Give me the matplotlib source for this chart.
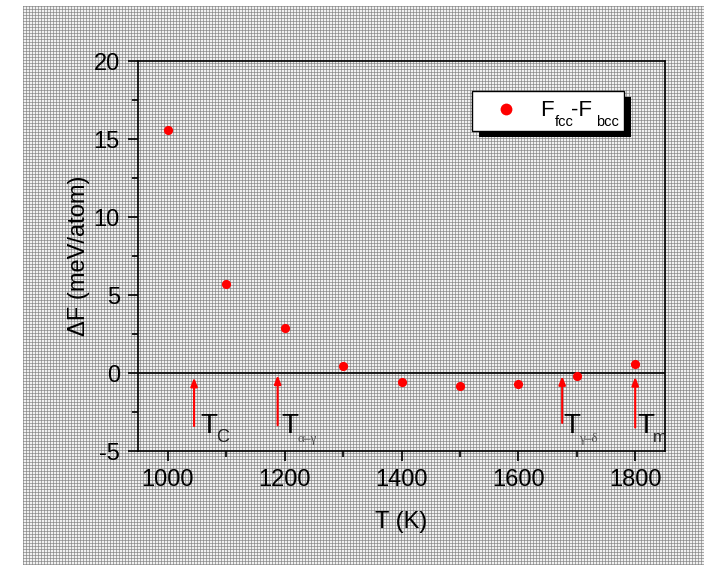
import numpy as np
import matplotlib
matplotlib.use("Agg")
import matplotlib.pyplot as plt
from matplotlib.ticker import MultipleLocator
from matplotlib.patches import Rectangle
from matplotlib.lines import Line2D

plt.rcParams['font.family'] = ['Liberation Sans', 'DejaVu Sans']
plt.rcParams['axes.unicode_minus'] = False

# dane: roznica energii swobodnej fcc - bcc
temps = [1000, 1100, 1200, 1300, 1400, 1500, 1600, 1700, 1800]
delta_f = [15.6, 5.7, 2.9, 0.45, -0.6, -0.85, -0.7, -0.2, 0.55]

# strzalki z temperaturami przejsc
arrow_x = [1045, 1188, 1675, 1800]
arrow_top = [-0.3, -0.15, -0.2, -0.25]
arrow_bottom = [-3.4, -3.35, -3.2, -3.5]
arrow_subs = ["C", "α–γ", "γ–δ", "m"]

W, H = 704, 565


def fx(x):
    return x / W


def fy(y):
    return 1 - y / H


fig = plt.figure(figsize=(W / 100, H / 100), dpi=100)

# szare tlo w kratke
bg = np.full((559, 681), 0.94)
bg[::3, :] = 0.66
bg[:, ::3] = 0.66
bg[::3, ::3] = 0.55
bgax = fig.add_axes([23 / W, 0, 681 / W, 559 / H], zorder=-1)
bgax.imshow(bg, cmap='gray', vmin=0, vmax=1, interpolation='nearest', aspect='auto')
bgax.axis('off')

ax = fig.add_axes([fx(138), fy(451), 527 / W, 390 / H])
ax.set_facecolor('none')

ax.plot(temps, delta_f, 'o', color='red', markersize=6.6, markeredgewidth=0, zorder=4)
ax.axhline(0, color='black', lw=1.2, zorder=2)

for x, top, bot in zip(arrow_x, arrow_top, arrow_bottom):
    ax.annotate('', xy=(x, top), xytext=(x, bot),
                arrowprops=dict(arrowstyle='-|>,head_length=0.5,head_width=0.2',
                                color='red', lw=1.5, shrinkA=0, shrinkB=0))

t_dx = [6, 4, 1, 2]
sub_size = [13, 9.5, 9.5, 12]
sub_color = ['#222222', '#555555', '#555555', '#222222']
sub_family = ['Liberation Sans', 'Liberation Serif', 'Liberation Serif', 'Liberation Sans']
for i, (x, sub) in enumerate(zip(arrow_x, arrow_subs)):
    ax.annotate('T', xy=(x, -3.85), xytext=(t_dx[i], 0), textcoords='offset pixels',
                fontsize=20, ha='left', va='baseline')
    ax.annotate(sub, xy=(x, -3.85), xytext=(t_dx[i] + 16, -9), textcoords='offset pixels',
                fontsize=sub_size[i], ha='left', va='baseline', color=sub_color[i],
                family=sub_family[i])

ax.set_xlim(949, 1851)
ax.set_ylim(-5, 20)
ax.xaxis.set_major_locator(MultipleLocator(200))
ax.xaxis.set_minor_locator(MultipleLocator(100))
ax.yaxis.set_major_locator(MultipleLocator(5))
ax.yaxis.set_minor_locator(MultipleLocator(2.5))
ax.tick_params(which='both', direction='out', width=1.2, labelsize=17, pad=6)
ax.tick_params(which='major', length=7)
ax.tick_params(which='minor', length=4)
for s in ax.spines.values():
    s.set_linewidth(1.2)

ax.set_xlabel('T (K)', fontsize=17)
ax.set_ylabel('ΔF (meV/atom)', fontsize=17)
ax.xaxis.set_label_coords(0.5, -(511 - 451) / 390)
ax.yaxis.set_label_coords(-(138 - 90) / 527, 0.5)

# legenda z cieniem
fig.add_artist(Rectangle((fx(479), fy(137)), 152 / W, 40 / H, transform=fig.transFigure,
                         facecolor='black', edgecolor='none', zorder=5))
fig.add_artist(Rectangle((fx(472), fy(131)), 152 / W, 40 / H, transform=fig.transFigure,
                         facecolor='white', edgecolor='black', lw=1.0, zorder=6))
fig.add_artist(Line2D([fx(506)], [fy(109)], transform=fig.transFigure, marker='o',
                      color='red', markersize=8.5, markeredgewidth=0, zorder=7))
fig.text(fx(540), fy(116), 'F', fontsize=16, va='baseline', zorder=7)
fig.text(fx(555), fy(126), 'fcc', fontsize=10.5, va='baseline', zorder=7)
fig.text(fx(571), fy(116), '-F', fontsize=16, va='baseline', zorder=7)
fig.text(fx(596), fy(126), 'bcc', fontsize=10.5, va='baseline', zorder=7)

fig.savefig('out.png', dpi=100)
